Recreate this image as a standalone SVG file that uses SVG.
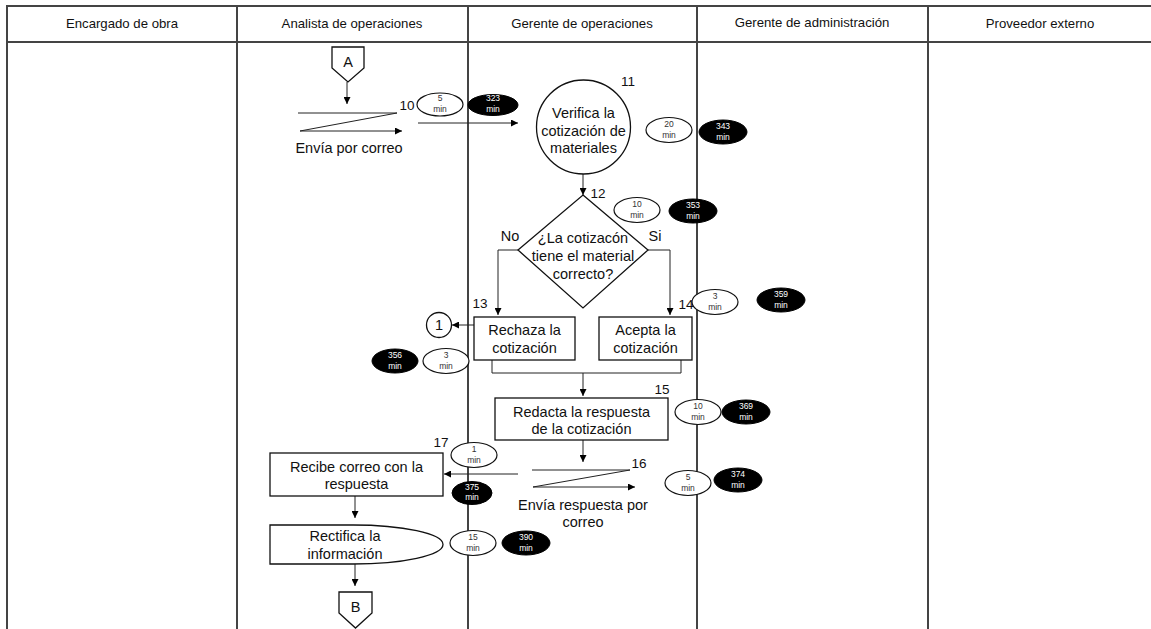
<svg xmlns="http://www.w3.org/2000/svg" width="1151" height="629" viewBox="0 0 1151 629">
  <defs>
    <marker id="arr" viewBox="0 0 10 10" refX="10" refY="5" markerWidth="7" markerHeight="7" markerUnits="userSpaceOnUse" orient="auto">
      <path d="M0,0 L10,5 L0,10 Z" fill="#000"/>
    </marker>
    <style>
      text { font-family: "Liberation Sans", Arial, sans-serif; fill: #111; }
      .hdr { font-size: 13.2px; text-anchor: middle; }
      .lbl { font-size: 14.5px; text-anchor: middle; }
      .num { font-size: 13.5px; text-anchor: middle; }
      .t { font-size: 8.5px; text-anchor: middle; fill: #333; }
      .tw { font-size: 8.5px; text-anchor: middle; fill: #fff; }
      .shape { fill: #fff; stroke: #111; stroke-width: 1.3; }
      .lane { stroke: #444; stroke-width: 2; fill: none; }
      .conn { stroke: #222; stroke-width: 1; fill: none; }
      .arrow { stroke: #222; stroke-width: 1; fill: none; marker-end: url(#arr); }
      .wt { fill: #fff; stroke: #111; stroke-width: 1.2; }
      .bk { fill: #000; stroke: #000; stroke-width: 1; }
    </style>
  </defs>

  <rect width="1151" height="629" fill="#fff"/>

  <!-- swimlane table -->
  <g id="lanes">
    <line class="lane" x1="6" y1="6" x2="1151" y2="6"/>
    <line class="lane" x1="6" y1="42" x2="1151" y2="42"/>
    <line class="lane" x1="7" y1="5" x2="7" y2="629"/>
    <line class="lane" x1="237" y1="5" x2="237" y2="629"/>
    <line class="lane" x1="468" y1="5" x2="468" y2="629"/>
    <line class="lane" x1="697" y1="5" x2="697" y2="629"/>
    <line class="lane" x1="928" y1="5" x2="928" y2="629"/>
    <text class="hdr" x="122" y="28">Encargado de obra</text>
    <text class="hdr" x="352" y="28">Analista de operaciones</text>
    <text class="hdr" x="582" y="28">Gerente de operaciones</text>
    <text class="hdr" x="812" y="27">Gerente de administración</text>
    <text class="hdr" x="1040" y="28">Proveedor externo</text>
  </g>

  <!-- connectors -->
  <g id="connectors">
    <line class="arrow" x1="347" y1="82" x2="347" y2="104"/>
    <line class="arrow" x1="418" y1="123" x2="518" y2="123"/>
    <line class="arrow" x1="583" y1="173" x2="583" y2="195"/>
    <polyline class="arrow" points="518,250 498,250 498,315"/>
    <polyline class="arrow" points="648,250 670,250 670,315"/>
    <line class="arrow" x1="474" y1="325" x2="452" y2="325"/>
    <polyline class="conn" points="492,360 492,373 681,373 681,360"/>
    <line class="arrow" x1="583" y1="373" x2="583" y2="396"/>
    <line class="arrow" x1="583" y1="440" x2="583" y2="462"/>
    <line class="arrow" x1="518" y1="474" x2="444" y2="474"/>
    <line class="arrow" x1="355" y1="496" x2="355" y2="518"/>
    <line class="arrow" x1="355" y1="564" x2="355" y2="586"/>
  </g>

  <!-- off-page connector A -->
  <g id="node-A">
    <path class="shape" d="M332,47 H364 V68 L348,82 L332,68 Z"/>
    <text class="lbl" x="348" y="67">A</text>
  </g>

  <!-- step 10: send by mail -->
  <g id="node-10">
    <line class="conn" x1="298" y1="113" x2="397" y2="113"/>
    <line class="conn" x1="397" y1="113" x2="300" y2="131"/>
    <line class="arrow" x1="300" y1="131" x2="402" y2="131"/>
    <text class="lbl" x="349" y="153">Envía por correo</text>
    <text class="num" x="407" y="110">10</text>
    <ellipse class="wt" cx="440" cy="104.5" rx="23" ry="11.5"/>
    <text class="t" x="440" y="101">5</text>
    <text class="t" x="440" y="112">min</text>
    <ellipse class="bk" cx="493" cy="105" rx="25" ry="10.5"/>
    <text class="tw" x="493" y="101">323</text>
    <text class="tw" x="493" y="112">min</text>
  </g>

  <!-- step 11 -->
  <g id="node-11">
    <circle class="shape" cx="583.5" cy="127" r="47"/>
    <text class="lbl" x="583.5" y="118">Verifica la</text>
    <text class="lbl" x="583.5" y="136">cotización de</text>
    <text class="lbl" x="583.5" y="153">materiales</text>
    <text class="num" x="628" y="86">11</text>
    <ellipse class="wt" cx="669" cy="130" rx="23" ry="12.5"/>
    <text class="t" x="669" y="127">20</text>
    <text class="t" x="669" y="138">min</text>
    <ellipse class="bk" cx="723" cy="132" rx="24" ry="12"/>
    <text class="tw" x="723" y="129">343</text>
    <text class="tw" x="723" y="140">min</text>
  </g>

  <!-- step 12: decision -->
  <g id="node-12">
    <path class="shape" d="M583,195 L648,250 L583,308 L518,250 Z"/>
    <text class="lbl" x="583" y="243">¿La cotizacón</text>
    <text class="lbl" x="583" y="261">tiene el material</text>
    <text class="lbl" x="583" y="279">correcto?</text>
    <text class="num" x="598" y="198">12</text>
    <text class="lbl" x="510" y="241">No</text>
    <text class="lbl" x="655" y="241">Si</text>
    <ellipse class="wt" cx="637" cy="210" rx="23" ry="12.5"/>
    <text class="t" x="637" y="207">10</text>
    <text class="t" x="637" y="218">min</text>
    <ellipse class="bk" cx="693" cy="211" rx="24" ry="12"/>
    <text class="tw" x="693" y="208">353</text>
    <text class="tw" x="693" y="219">min</text>
  </g>

  <!-- step 13 -->
  <g id="node-13">
    <rect class="shape" x="474" y="317" width="101" height="43"/>
    <text class="lbl" x="524.5" y="335">Rechaza la</text>
    <text class="lbl" x="524.5" y="353">cotización</text>
    <text class="num" x="480" y="308">13</text>
    <ellipse class="wt" cx="446" cy="361" rx="23" ry="12.5"/>
    <text class="t" x="446" y="358">3</text>
    <text class="t" x="446" y="369">min</text>
    <ellipse class="bk" cx="395" cy="361" rx="23" ry="12"/>
    <text class="tw" x="395" y="358">356</text>
    <text class="tw" x="395" y="369">min</text>
  </g>

  <!-- on-page connector 1 -->
  <g id="node-conn1">
    <circle class="shape" cx="439" cy="325" r="12.5"/>
    <text class="lbl" x="439" y="330">1</text>
  </g>

  <!-- step 14 -->
  <g id="node-14">
    <rect class="shape" x="599" y="317" width="93" height="43"/>
    <text class="lbl" x="645.5" y="335">Acepta la</text>
    <text class="lbl" x="645.5" y="353">cotización</text>
    <text class="num" x="686" y="309">14</text>
    <ellipse class="wt" cx="715" cy="302" rx="23" ry="12.5"/>
    <text class="t" x="715" y="299">3</text>
    <text class="t" x="715" y="310">min</text>
    <ellipse class="bk" cx="781" cy="300" rx="24" ry="12"/>
    <text class="tw" x="781" y="297">359</text>
    <text class="tw" x="781" y="308">min</text>
  </g>

  <!-- step 15 -->
  <g id="node-15">
    <rect class="shape" x="495" y="398" width="173" height="42"/>
    <text class="lbl" x="581.5" y="417">Redacta la respuesta</text>
    <text class="lbl" x="581.5" y="434">de la cotización</text>
    <text class="num" x="662" y="394">15</text>
    <ellipse class="wt" cx="698" cy="412" rx="23" ry="12.5"/>
    <text class="t" x="698" y="409">10</text>
    <text class="t" x="698" y="420">min</text>
    <ellipse class="bk" cx="746" cy="412" rx="24" ry="12"/>
    <text class="tw" x="746" y="409">369</text>
    <text class="tw" x="746" y="420">min</text>
  </g>

  <!-- step 16: send reply by mail -->
  <g id="node-16">
    <line class="conn" x1="532" y1="470" x2="630" y2="470"/>
    <line class="conn" x1="630" y1="470" x2="533" y2="487"/>
    <line class="arrow" x1="533" y1="487" x2="635" y2="487"/>
    <text class="lbl" x="583" y="510">Envía respuesta por</text>
    <text class="lbl" x="583" y="527">correo</text>
    <text class="num" x="639" y="468">16</text>
    <ellipse class="wt" cx="688" cy="483" rx="23" ry="12.5"/>
    <text class="t" x="688" y="480">5</text>
    <text class="t" x="688" y="491">min</text>
    <ellipse class="bk" cx="738" cy="480" rx="24" ry="12"/>
    <text class="tw" x="738" y="477">374</text>
    <text class="tw" x="738" y="488">min</text>
  </g>

  <!-- step 17 -->
  <g id="node-17">
    <rect class="shape" x="270" y="453" width="173" height="43"/>
    <text class="lbl" x="356.5" y="472">Recibe correo con la</text>
    <text class="lbl" x="356.5" y="489">respuesta</text>
    <text class="num" x="441" y="447">17</text>
    <ellipse class="wt" cx="474" cy="455" rx="23" ry="12.5"/>
    <text class="t" x="474" y="452">1</text>
    <text class="t" x="474" y="463">min</text>
    <ellipse class="bk" cx="472" cy="493" rx="20" ry="11.5"/>
    <text class="tw" x="472" y="490">375</text>
    <text class="tw" x="472" y="500">min</text>
  </g>

  <!-- step 18: rectify -->
  <g id="node-18">
    <path class="shape" d="M270,525 H353 A90,19.5 0 0 1 353,564 H270 Z"/>
    <text class="lbl" x="345" y="541">Rectifica la</text>
    <text class="lbl" x="345" y="559">información</text>
    <ellipse class="wt" cx="473" cy="543" rx="23" ry="12.5"/>
    <text class="t" x="473" y="540">15</text>
    <text class="t" x="473" y="551">min</text>
    <ellipse class="bk" cx="526" cy="543" rx="24" ry="12"/>
    <text class="tw" x="526" y="540">390</text>
    <text class="tw" x="526" y="551">min</text>
  </g>

  <!-- off-page connector B -->
  <g id="node-B">
    <path class="shape" d="M339,592 H372 V613 L355.5,628 L339,613 Z"/>
    <text class="lbl" x="355.5" y="612">B</text>
  </g>
</svg>
